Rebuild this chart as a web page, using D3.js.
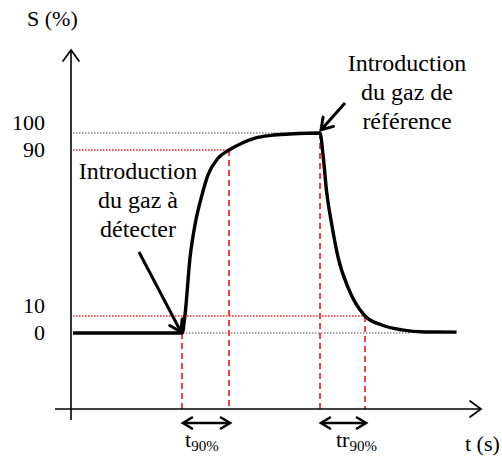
<!DOCTYPE html>
<html>
<head>
<meta charset="utf-8">
<script src="https://cdn.jsdelivr.net/npm/d3@7"></script>
<style>
  body { margin: 0; background: #fff; }
</style>
</head>
<body>
<svg id="chart"></svg>
<script>
// sensor response S(%) against time (schematic, arbitrary time units)
const curveT = [0.5, 27.8, 28.5, 29.75, 31, 32.7, 34.25, 36.75, 39.5, 42.7, 46, 50, 54.75, 62.25,
  63.1, 63.9, 65.2, 66.8, 69.3, 73.5, 77.7, 82.7, 88.5, 96.4];
const curveS = [0, 0, 10.5, 38, 54, 68, 78, 86, 90, 94, 97, 98.6, 99.4, 100,
  86, 70, 54, 38, 23.5, 10, 4.7, 1.8, 0.6, 0.5];

const levelValues = [0, 10, 90, 100];
const levelLabels = ['0', '10', '90', '100'];

// guide lines: level, start time, end time, kind
const guideLevels = [100, 90, 10, 0];
const guideFrom = [0.5, 0.5, 0.5, 28];
const guideTo = [62.25, 39.5, 73.5, 84.75];
const guideKind = ['grey', 'red', 'red', 'grey'];

// instants where the dashed verticals drop to the time axis
const eventTimes = [27.75, 39.5, 62.25, 73.5];
const eventLevels = [0, 90, 100, 10];

const durationNames = ['t', 'tr'];
const durationStart = [27.75, 62.25];
const durationEnd = [39.5, 73.5];

const noteLines1 = ['Introduction', 'du gaz à', 'détecter'];
const noteLines2 = ['Introduction', 'du gaz de', 'référence'];

const width = 502;
const height = 459;
const serif = '"Liberation Serif", "Times New Roman", serif';

const svg = d3.select('#chart')
    .attr('width', width)
    .attr('height', height)
    .attr('font-family', serif);

const x = d3.scaleLinear().domain([0, 100]).range([71, 471]);
const y = d3.scaleLinear().domain([0, 10, 90, 100]).range([333, 316, 150, 133]);
const axisY = 409;

const defs = svg.append('defs');
function chevron(id, len, half, sw) {
  defs.append('marker')
      .attr('id', id)
      .attr('markerUnits', 'userSpaceOnUse')
      .attr('viewBox', `${-len - 4} ${-half - 4} ${len + 8} ${half * 2 + 8}`)
      .attr('markerWidth', len + 8)
      .attr('markerHeight', half * 2 + 8)
      .attr('refX', 0)
      .attr('refY', 0)
      .attr('orient', 'auto-start-reverse')
      .append('path')
      .attr('d', `M${-len},${-half}L0,0L${-len},${half}`)
      .attr('fill', 'none')
      .attr('stroke', '#000')
      .attr('stroke-width', sw)
      .attr('stroke-linecap', 'round');
}
chevron('axisHead', 11, 8, 1.7);
chevron('noteHead', 11, 7, 3);
chevron('spanHead', 9, 5.5, 2.6);

// guide lines
svg.selectAll('.guide')
    .data(guideLevels)
    .enter().append('line')
    .attr('class', 'guide')
    .attr('x1', (d, i) => x(guideFrom[i]))
    .attr('x2', (d, i) => x(guideTo[i]))
    .attr('y1', (d) => y(d))
    .attr('y2', (d) => y(d))
    .attr('stroke', (d, i) => guideKind[i] === 'red' ? '#ff2020' : '#8a8a8a')
    .attr('stroke-width', 1.4)
    .attr('stroke-dasharray', '1.5,1.5');

svg.selectAll('.event')
    .data(eventTimes)
    .enter().append('line')
    .attr('class', 'event')
    .attr('x1', (d) => x(d))
    .attr('x2', (d) => x(d))
    .attr('y1', (d, i) => y(eventLevels[i]))
    .attr('y2', axisY)
    .attr('stroke', '#ff2a2a')
    .attr('stroke-width', 1.8)
    .attr('stroke-dasharray', '6,4');

// axes
svg.append('line')
    .attr('x1', x(0)).attr('x2', x(0))
    .attr('y1', 420).attr('y2', 50)
    .attr('stroke', '#000').attr('stroke-width', 1.6)
    .attr('marker-end', 'url(#axisHead)');
svg.append('line')
    .attr('x1', 55).attr('x2', 481)
    .attr('y1', axisY).attr('y2', axisY)
    .attr('stroke', '#000').attr('stroke-width', 1.6)
    .attr('marker-end', 'url(#axisHead)');

svg.selectAll('.level')
    .data(levelValues)
    .enter().append('text')
    .attr('class', 'level')
    .attr('x', 45)
    .attr('y', (d, i) => y(d) + (i % 2 === 1 ? -3 : 7))
    .attr('text-anchor', 'end')
    .attr('font-family', serif)
    .attr('font-size', 22)
    .text((d, i) => levelLabels[i]);

svg.append('text')
    .attr('x', 27).attr('y', 26)
    .attr('font-family', serif)
    .attr('font-size', 22)
    .text('S (%)');
svg.append('text')
    .attr('x', 465).attr('y', 451)
    .attr('font-family', serif)
    .attr('font-size', 22)
    .text('t (s)');

// response curve
const line = d3.line()
    .x((d) => x(d[0]))
    .y((d) => y(d[1]))
    .curve(d3.curveMonotoneX);
svg.append('path')
    .datum(curveT.map((t, i) => [t, curveS[i]]))
    .attr('d', line)
    .attr('fill', 'none')
    .attr('stroke', '#000')
    .attr('stroke-width', 3.4)
    .attr('stroke-linejoin', 'round');

// response / recovery time spans
const spanY = 423;
svg.selectAll('.span')
    .data(durationStart)
    .enter().append('line')
    .attr('class', 'span')
    .attr('x1', (d) => x(d) + 1)
    .attr('x2', (d, i) => x(durationEnd[i]) + 1)
    .attr('y1', spanY).attr('y2', spanY)
    .attr('stroke', '#000').attr('stroke-width', 2.6)
    .attr('marker-start', 'url(#spanHead)')
    .attr('marker-end', 'url(#spanHead)');

const spanLabel = svg.selectAll('.spanLabel')
    .data(durationNames)
    .enter().append('text')
    .attr('class', 'spanLabel')
    .attr('x', (d, i) => x(durationStart[i]) + (i === 0 ? 3 : 16))
    .attr('y', 447)
    .attr('font-family', serif)
    .attr('font-size', 22);
spanLabel.append('tspan').text((d) => d);
spanLabel.append('tspan')
    .attr('font-size', 15)
    .attr('dy', 4)
    .text('90%');

// annotations
function note(lines, cx, top, from, to) {
  svg.append('text')
      .attr('text-anchor', 'middle')
      .attr('font-family', serif)
      .attr('font-size', 24)
      .selectAll('tspan')
      .data(lines)
      .enter().append('tspan')
      .attr('x', cx)
      .attr('y', (d, i) => top + i * 28.8)
      .text((d) => d);
  svg.append('line')
      .attr('x1', from[0]).attr('y1', from[1])
      .attr('x2', to[0]).attr('y2', to[1])
      .attr('stroke', '#000').attr('stroke-width', 3)
      .attr('marker-end', 'url(#noteHead)');
}
note(noteLines1, 138, 179, [139, 252], [x(27.75) - 1, y(0) - 1]);
note(noteLines2, 407, 71, [345, 103], [x(62.25) + 1, y(100) - 3]);
</script>
</body>
</html>
